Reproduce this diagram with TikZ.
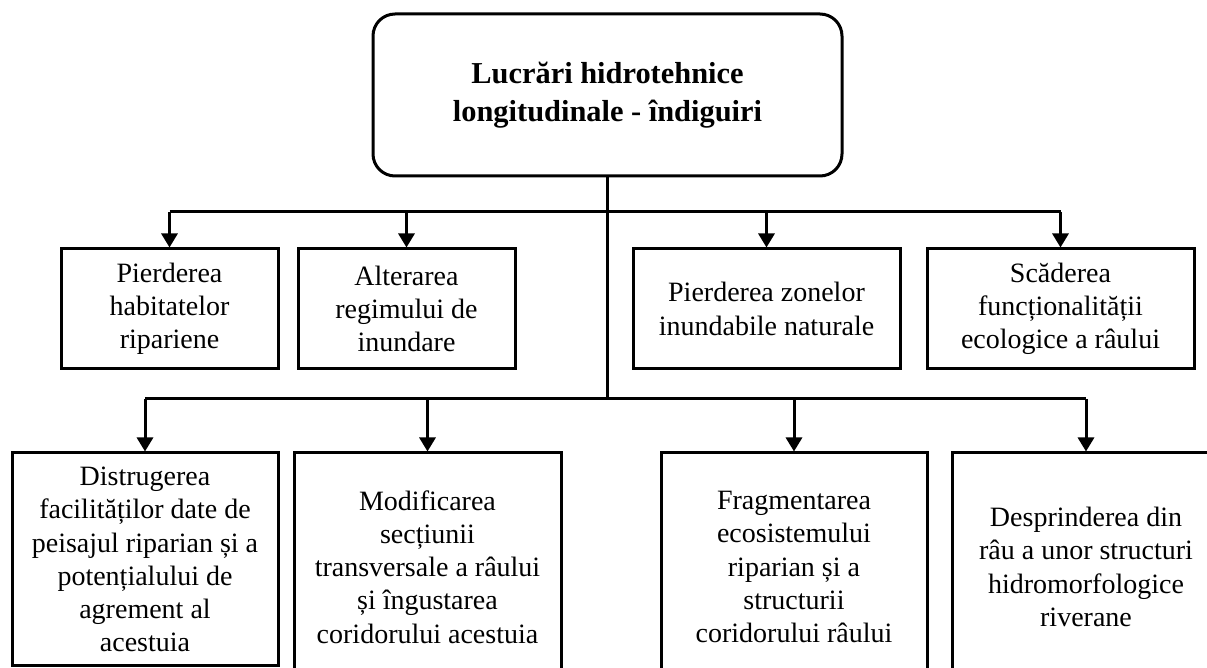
\documentclass[tikz,border=0pt]{standalone}
\usepackage{fontspec}
\setmainfont{Liberation Serif}
\usetikzlibrary{arrows.meta}

\tikzset{
  effect/.style={draw, line width=1.5pt, align=center, inner sep=1pt,
    font=\fontsize{14}{16.6}\selectfont},
  cause/.style={effect, rounded corners=11pt,
    font=\bfseries\fontsize{15.2}{19}\selectfont},
  link/.style={line width=1.5pt},
  arrow/.style={link, -{Triangle[width=8pt,length=7pt]}},
}

\begin{document}
\begin{tikzpicture}[x=0.5pt, y=-0.5pt]
    \useasboundingbox (0,0) rectangle (1207,668);
    \clip (0,0) rectangle (1207,668);
    % Main work
    \node[cause, minimum width=234.5pt, minimum height=81pt] (root) at (607.5,95)
      {Lucrări hidrotehnice\\longitudinale - îndiguiri};
    % Branch points
    \coordinate (fork1) at (607.5,212);
    \coordinate (fork2) at (607.5,399);
    % First row of effects
    \node[effect, minimum width=108.5pt, minimum height=60pt] (b1) at (169.5,309)
      {Pierderea\\habitatelor\\ripariene};
    \node[effect, minimum width=108.5pt, minimum height=60pt] (b2) at (406.5,309)
      {Alterarea\\regimului de\\inundare};
    \node[effect, minimum width=133.5pt, minimum height=60pt] (b3) at (766.5,309)
      {Pierderea zonelor\\inundabile naturale};
    \node[effect, minimum width=133.5pt, minimum height=60pt] (b4) at (1060.5,309)
      {Scăderea\\funcționalității\\ecologice a râului};
    % Second row of effects
    \node[effect, minimum width=133pt, minimum height=106.5pt] (b5) at (145,559.5)
      {Distrugerea\\facilităților date de\\peisajul riparian și a\\potențialului de\\agrement al\\acestuia};
    \node[effect, minimum width=133.5pt, minimum height=114pt] (b6) at (427.5,567)
      {Modificarea\\secțiunii\\transversale a râului\\și îngustarea\\coridorului acestuia};
    \node[effect, minimum width=133pt, minimum height=114pt] (b7) at (794,567)
      {Fragmentarea\\ecosistemului\\riparian și a\\structurii\\coridorului râului};
    \node[effect, minimum width=134pt, minimum height=114pt] (b8) at (1086,567)
      {Desprinderea din\\râu a unor structuri\\hidromorfologice\\riverane};
    % Trunk and buses
    \draw[link] (root.south) -- (fork2);
    \draw[link] (b1.north |- fork1) -- (b4.north |- fork1);
    \draw[link] (b5.north |- fork2) -- (b8.north |- fork2);
    % Arrows down to the boxes
    \foreach \n in {b1,b2,b3,b4}
      \draw[arrow] (\n.north |- fork1) -- (\n.north);
    \foreach \n in {b5,b6,b7,b8}
      \draw[arrow] (\n.north |- fork2) -- (\n.north);
\end{tikzpicture}
\end{document}
